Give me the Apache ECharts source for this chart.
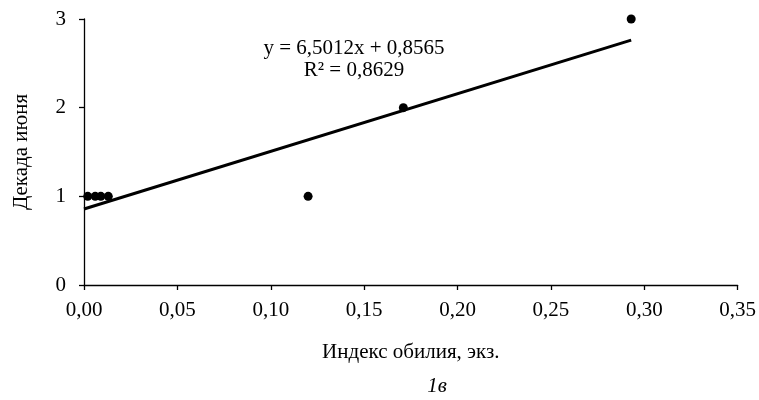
<!DOCTYPE html>
<html><head><meta charset="utf-8">
<script src="https://cdn.jsdelivr.net/npm/echarts@6/dist/echarts.min.js"></script>
<style>html,body{margin:0;padding:0;background:#fff}#c{width:759px;height:400px}</style>
</head><body><div id="c"></div>
<script>
const xValues = [0.002, 0.006, 0.009, 0.013, 0.120, 0.171, 0.293];
const yValues = [1, 1, 1, 1, 1, 2, 3];
const trendSlope = 6.5012;
const trendIntercept = 0.8565;
const trendX = [0, 0.293];
const equationLines = ['y = 6,5012x + 0,8565', 'R² = 0,8629'];
const xTitle = 'Индекс обилия, экз.';
const yTitle = 'Декада июня';
const caption = '1в';

const points = xValues.map((x, i) => [x, yValues[i]]);
const trend = trendX.map(x => [x, trendSlope * x + trendIntercept]);
const font = '"Liberation Serif", "Times New Roman", serif';

const chart = echarts.init(document.getElementById('c'));
chart.setOption({
  animation: false,
  textStyle: { fontFamily: font },
  grid: { left: 84, right: 21, top: 19, bottom: 115 },
  xAxis: {
    type: 'value', min: 0, max: 0.35, interval: 0.05,
    axisLine: { lineStyle: { color: '#000', width: 1.3 } },
    axisTick: { show: true, length: 5, lineStyle: { color: '#000', width: 1.3 } },
    splitLine: { show: false },
    axisLabel: { color: '#000', fontSize: 21, fontFamily: font, margin: 15,
      formatter: v => v.toFixed(2).replace('.', ',') },
    name: xTitle, nameLocation: 'middle', nameGap: 57,
    nameTextStyle: { color: '#000', fontSize: 21, fontFamily: font }
  },
  yAxis: {
    type: 'value', min: 0, max: 3, interval: 1,
    axisLine: { show: true, lineStyle: { color: '#000', width: 1.3 } },
    axisTick: { show: true, length: 5, lineStyle: { color: '#000', width: 1.3 } },
    splitLine: { show: false },
    axisLabel: { color: '#000', fontSize: 21, fontFamily: font, margin: 18 },
    name: yTitle, nameLocation: 'middle', nameGap: 52,
    nameTextStyle: { color: '#000', fontSize: 21, fontFamily: font }
  },
  graphic: [
    { type: 'text', style: { text: equationLines[0], x: 354, y: 48, fill: '#000', font: '21px ' + font, textAlign: 'center', textVerticalAlign: 'middle' } },
    { type: 'text', style: { text: equationLines[1], x: 354, y: 70, fill: '#000', font: '21px ' + font, textAlign: 'center', textVerticalAlign: 'middle' } },
    { type: 'text', style: { text: caption, x: 437, y: 386, fill: '#000', font: 'italic 21px ' + font, textAlign: 'center', textVerticalAlign: 'middle' } }
  ],
  series: [
    {
      type: 'line', data: trend, symbol: 'none', silent: true,
      lineStyle: { color: '#000', width: 3 },
      z: 2
    },
    {
      type: 'scatter', data: points, symbol: 'circle', symbolSize: 9,
      itemStyle: { color: '#000', opacity: 1 }, z: 3
    }
  ]
});
</script></body></html>
